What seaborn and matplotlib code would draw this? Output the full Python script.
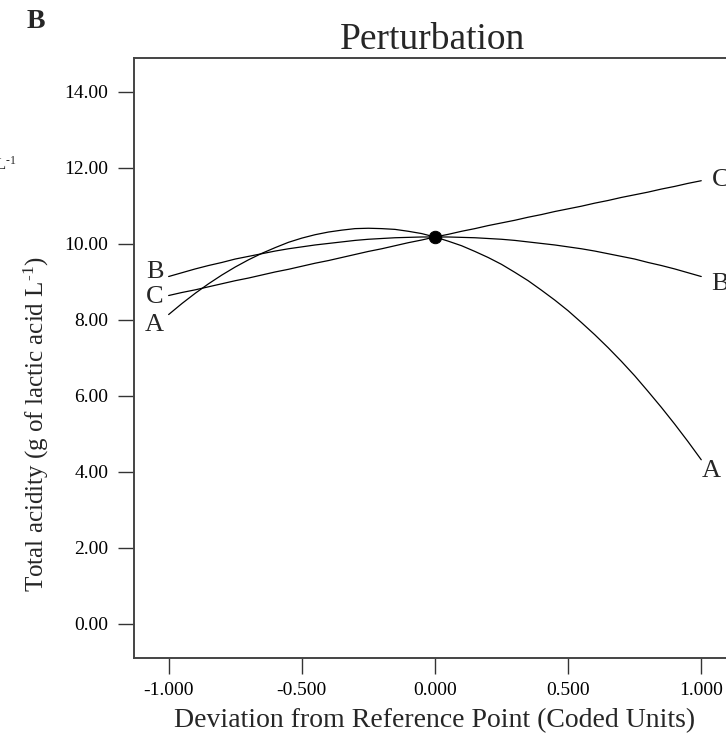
import matplotlib
matplotlib.use("Agg")
import matplotlib.pyplot as plt
import numpy as np
import pandas as pd
import seaborn as sns

# ---- data ----
deviation = [-1.00, -0.95, -0.90, -0.85, -0.80, -0.75, -0.70, -0.65, -0.60, -0.55,
             -0.50, -0.45, -0.40, -0.35, -0.30, -0.25, -0.20, -0.15, -0.10, -0.05,
             0.00, 0.05, 0.10, 0.15, 0.20, 0.25, 0.30, 0.35, 0.40, 0.45,
             0.50, 0.55, 0.60, 0.65, 0.70, 0.75, 0.80, 0.85, 0.90, 0.95, 1.00]
factor_A = [8.14, 8.43, 8.70, 8.95, 9.18, 9.39, 9.58, 9.75, 9.90, 10.04,
            10.15, 10.24, 10.31, 10.36, 10.40, 10.41, 10.40, 10.38, 10.33, 10.27,
            10.18, 10.07, 9.95, 9.80, 9.64, 9.46, 9.25, 9.03, 8.78, 8.52,
            8.24, 7.93, 7.61, 7.27, 6.91, 6.53, 6.12, 5.70, 5.26, 4.80, 4.32]
factor_B = [9.14, 9.24, 9.34, 9.43, 9.51, 9.60, 9.67, 9.74, 9.81, 9.87,
            9.92, 9.97, 10.01, 10.05, 10.09, 10.12, 10.14, 10.16, 10.17, 10.18,
            10.18, 10.18, 10.17, 10.16, 10.14, 10.12, 10.09, 10.05, 10.01, 9.97,
            9.92, 9.87, 9.81, 9.74, 9.67, 9.60, 9.51, 9.43, 9.34, 9.24, 9.14]
factor_C = [8.64, 8.72, 8.79, 8.87, 8.95, 9.03, 9.10, 9.18, 9.26, 9.33,
            9.41, 9.49, 9.56, 9.64, 9.72, 9.80, 9.87, 9.95, 10.03, 10.10,
            10.18, 10.25, 10.33, 10.40, 10.48, 10.55, 10.62, 10.70, 10.77, 10.85,
            10.92, 10.99, 11.07, 11.14, 11.22, 11.29, 11.36, 11.44, 11.51, 11.59, 11.66]
reference_x = [0.0]
reference_y = [10.18]

x_ticks = [-1.0, -0.5, 0.0, 0.5, 1.0]
x_tick_labels = ["-1.000", "-0.500", "0.000", "0.500", "1.000"]
y_ticks = [0, 2, 4, 6, 8, 10, 12, 14]
y_tick_labels = ["0.00", "2.00", "4.00", "6.00", "8.00", "10.00", "12.00", "14.00"]

left_labels = ["B", "C", "A"]
left_label_y = [9.26, 8.61, 7.87]
right_labels = ["C", "B", "A"]
right_label_x = [1.04, 1.037, 1.003]
right_label_y = [11.68, 8.95, 4.03]

# ---- styling ----
sns.set_theme(style="white")
plt.rcParams["font.family"] = ["Liberation Serif", "DejaVu Serif"]
plt.rcParams["mathtext.fontset"] = "custom"
plt.rcParams["mathtext.rm"] = "Liberation Serif"
plt.rcParams["mathtext.it"] = "Liberation Serif:italic"
plt.rcParams["axes.unicode_minus"] = False

df = pd.DataFrame({
    "deviation": deviation * 3,
    "acidity": factor_A + factor_B + factor_C,
    "factor": ["A"] * len(deviation) + ["B"] * len(deviation) + ["C"] * len(deviation),
})

fig = plt.figure(figsize=(7.26, 7.40), dpi=100)
ax = fig.add_axes([0.1846, 0.1108, 0.829, 0.8104])

sns.lineplot(data=df, x="deviation", y="acidity", hue="factor",
             palette=["black", "black", "black"], legend=False,
             linewidth=0.9, ax=ax)
sns.scatterplot(x=reference_x, y=reference_y, color="black", s=80,
                edgecolor="black", zorder=5, ax=ax)

ax.set_xlim(-1.13, 1.13)
ax.set_ylim(-0.895, 14.88)
ax.set_xticks(x_ticks)
ax.set_xticklabels(x_tick_labels)
ax.set_yticks(y_ticks)
ax.set_yticklabels(y_tick_labels)
ax.tick_params(axis="both", direction="out", length=11.5, width=1.0,
               color="#333333", labelsize=14, labelcolor="black",
               bottom=True, left=True, top=False, right=False)
ax.tick_params(axis="x", pad=6)
ax.tick_params(axis="y", pad=7)

for side in ["left", "bottom", "top"]:
    ax.spines[side].set_color("#444444")
    ax.spines[side].set_linewidth(1.4)
ax.spines["right"].set_visible(False)

ax.set_xlabel("Deviation from Reference Point (Coded Units)", fontsize=20)
ax.xaxis.set_label_coords(0.5, -0.083)
ax.set_ylabel(r"Total acidity (g of lactic acid L$^{\text{-}1}$)", fontsize=18)
ax.yaxis.set_label_coords(-0.138, 0.39)

for lab, yv in zip(left_labels, left_label_y):
    ax.text(-1.019, yv, lab, ha="right", va="center", fontsize=19)
for lab, xv, yv in zip(right_labels, right_label_x, right_label_y):
    ax.text(xv, yv, lab, ha="left", va="center", fontsize=19)

fig.text(0.596, 1 - 40 / 740, "Perturbation", ha="center", va="center", fontsize=27)
fig.text(36 / 726, 1 - 22 / 740, "B", ha="center", va="center", fontsize=20,
         fontweight="bold")
fig.text(16 / 726, 1 - 165 / 740, r"L$^{\text{-}1}$", ha="right", va="center", fontsize=12)

fig.savefig("out.png", dpi=100)
